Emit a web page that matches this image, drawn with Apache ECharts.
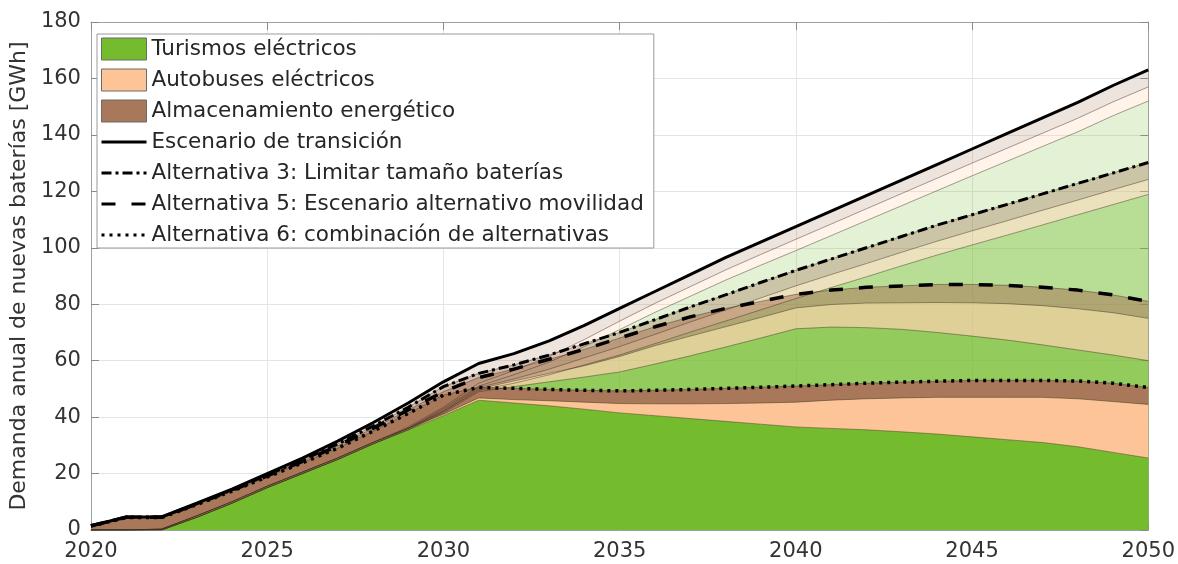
<!DOCTYPE html>
<html>
<head>
<meta charset="utf-8">
<script src="https://cdn.jsdelivr.net/npm/echarts@6/dist/echarts.min.js"></script>
<style>
  html, body { margin: 0; padding: 0; background: #ffffff; }
  #chart { width: 1178px; height: 564px; }
</style>
</head>
<body>
<div id="chart"></div>
<script>
// Years on the horizontal axis
const years = ['2020', '2021', '2022', '2023', '2024', '2025', '2026', '2027', '2028', '2029', '2030',
  '2031', '2032', '2033', '2034', '2035', '2036', '2037', '2038', '2039', '2040',
  '2041', '2042', '2043', '2044', '2045', '2046', '2047', '2048', '2049', '2050'];

// Escenario de transición (GWh per year)
const transicionTurismos = [0, 0, 0, 4.5, 9.5, 15, 20, 25, 30.5, 36, 43,
  51, 55, 59.5, 65, 71, 77.1, 82.8, 88.5, 93.8, 99,
  104.3, 109.6, 114.9, 120.2, 125.5, 130.7, 135.9, 141.1, 146.8, 152];
const transicionAutobuses = [0, 0, 0.3, 0.5, 0.5, 0.5, 0.5, 0.5, 0.5, 0.5, 0.5,
  1, 1.5, 2, 2.5, 3, 3.2, 3.4, 3.6, 3.8, 4,
  4.1, 4.2, 4.3, 4.4, 4.5, 4.6, 4.7, 4.8, 4.9, 5];
const transicionAlmacenamiento = [1.5, 4.6, 4.3, 4.5, 4.5, 4.5, 5, 6, 7, 8.5, 9,
  7, 6, 5.5, 5, 4.5, 4.2, 4.3, 4.4, 4.4, 4.5,
  4.6, 4.7, 4.8, 4.9, 5, 5.2, 5.4, 5.6, 5.8, 6];

// Alternativa 3: Limitar tamaño baterías
const alt3Turismos = [0, 0, 0, 4.5, 9.5, 15, 20, 25, 30.5, 35.5, 42,
  49.5, 52, 55, 58.5, 62, 66, 70.1, 74, 78, 82,
  85.9, 89.7, 93.6, 97.4, 101, 104.5, 108.1, 111.7, 115.3, 118.9];
const alt3Autobuses = [0, 0, 0.3, 0.5, 0.5, 0.5, 0.5, 0.5, 0.5, 0.5, 0.5,
  1, 1.5, 2, 2.5, 3, 3.3, 3.6, 3.9, 4.2, 4.5,
  4.6, 4.7, 4.8, 4.9, 5, 5.1, 5.2, 5.2, 5.3, 5.3];
const alt3Almacenamiento = [1.5, 4.6, 4.3, 4.3, 4.2, 4, 4.3, 5, 5.8, 7.5, 8.3,
  5, 5, 5, 5, 5, 5.2, 5.3, 5.4, 5.5, 5.5,
  5.5, 5.6, 5.6, 5.7, 5.7, 5.8, 5.8, 5.9, 5.9, 6];

// Alternativa 5: Escenario alternativo movilidad
const alt5Turismos = [0, 0, 0, 4.5, 9.5, 15, 20, 25, 30.5, 35.5, 41.5,
  49, 50.8, 52.5, 54.2, 56, 58.8, 61.7, 64.8, 68, 71.3,
  71.9, 71.7, 71.1, 70, 68.7, 67.3, 65.6, 63.8, 62, 60];
const alt5Autobuses = [0, 0, 0.3, 0.5, 0.5, 0.5, 0.5, 0.5, 0.5, 0.5, 0.5,
  1, 2, 3, 4, 5.5, 6.5, 7, 7.2, 7.3, 7.4,
  8, 8.7, 9.4, 10.6, 11.8, 12.9, 13.9, 14.6, 15, 15];
const alt5Almacenamiento = [1.5, 4.5, 4.2, 4.2, 4, 3.7, 3.8, 4.3, 5, 6.5, 7,
  4, 4.2, 5, 5.8, 6.5, 6.7, 6.8, 6.5, 5.7, 4.8,
  5.1, 5.6, 6, 6.4, 6.5, 6.5, 6.5, 6.6, 6.3, 6];

// Alternativa 6: combinación de alternativas
const alt6Turismos = [0, 0, 0, 4.5, 9.5, 15, 20, 25, 30.5, 35.5, 40.5,
  46, 45, 44, 42.8, 41.5, 40.5, 39.5, 38.5, 37.5, 36.5,
  36, 35.5, 34.8, 34, 33, 32, 31, 29.5, 27.5, 25.5];
const alt6Autobuses = [0, 0, 0.3, 0.5, 0.5, 0.5, 0.5, 0.5, 0.5, 0.5, 0.5,
  0.8, 1.2, 1.8, 2.5, 3.3, 4.2, 5.2, 6.3, 7.5, 8.8,
  10, 11, 12, 13, 14, 15, 16, 17, 18, 19];
const alt6Almacenamiento = [1.4, 4.4, 4.1, 4, 3.8, 3.3, 3.3, 3.5, 4, 5.3, 6.8,
  3.7, 4, 4, 4.2, 4.5, 4.8, 5.1, 5.4, 5.6, 5.7,
  5.5, 5.5, 5.6, 5.7, 6, 6, 6, 6.3, 6.5, 6];

const yTicks = { min: 0, max: 180, step: 20 };
const xLabelEvery = 5; // a labelled tick every five years

const categoryNames = ['Turismos eléctricos', 'Autobuses eléctricos', 'Almacenamiento energético'];
const categoryColors = ['#74bc2e', '#fdc597', '#a9785a'];

const FONT = 'DejaVu Sans';

// Scenarios from back to front; the last one is drawn opaque on top
const scenarios = [
  { name: 'Escenario de transición', stack: 'transicion', parts: [transicionTurismos, transicionAutobuses, transicionAlmacenamiento], alpha: 0.2, dash: 'solid', width: 3 },
  { name: 'Alternativa 3: Limitar tamaño baterías', stack: 'alt3', parts: [alt3Turismos, alt3Autobuses, alt3Almacenamiento], alpha: 0.38, dash: [10, 4, 3, 4], width: 3 },
  { name: 'Alternativa 5: Escenario alternativo movilidad', stack: 'alt5', parts: [alt5Turismos, alt5Autobuses, alt5Almacenamiento], alpha: 0.55, dash: [14, 16], width: 3.5 },
  { name: 'Alternativa 6: combinación de alternativas', stack: 'alt6', parts: [alt6Turismos, alt6Autobuses, alt6Almacenamiento], alpha: 1, dash: [3, 5], width: 3.5 }
];

const series = [];
// stacked areas per scenario
scenarios.forEach(sc => {
  sc.parts.forEach((arr, k) => {
    series.push({
      type: 'line',
      name: categoryNames[k],
      stack: sc.stack,
      data: arr,
      symbol: 'none',
      silent: true,
      z: 2,
      lineStyle: { color: 'rgba(60,45,30,0.45)', width: 1 },
      itemStyle: { color: categoryColors[k] },
      areaStyle: { color: categoryColors[k], opacity: sc.alpha },
      emphasis: { disabled: true }
    });
  });
});
// scenario totals drawn as black lines
scenarios.forEach(sc => {
  const total = years.map((y, i) => +(sc.parts[0][i] + sc.parts[1][i] + sc.parts[2][i]).toFixed(2));
  series.push({
    type: 'line',
    name: sc.name,
    data: total,
    symbol: 'none',
    silent: true,
    z: 5,
    itemStyle: { color: '#000' },
    lineStyle: { color: '#000', width: sc.width, type: sc.dash, cap: 'butt' },
    emphasis: { disabled: true }
  });
});

const legendData = categoryNames.map((n, k) => ({
  name: n,
  icon: 'rect',
  itemStyle: { color: categoryColors[k], borderColor: '#6b6b6b', borderWidth: 1, opacity: 1 }
})).concat(scenarios.map(sc => ({
  name: sc.name,
  itemStyle: { opacity: 0 },
  lineStyle: { color: '#000', width: 3, type: sc.dash, opacity: 1 }
})));

const xCommon = {
  type: 'category',
  data: years,
  boundaryGap: false,
  axisLine: { show: true, onZero: false, lineStyle: { color: '#a0a0a0', width: 1 } },
  axisTick: { show: true, inside: true, length: 8, interval: xLabelEvery - 1, lineStyle: { color: '#8a8a8a' } }
};
const yCommon = {
  type: 'value',
  min: yTicks.min, max: yTicks.max, interval: yTicks.step,
  axisLine: { show: true, onZero: false, lineStyle: { color: '#a0a0a0', width: 1 } },
  axisTick: { show: true, inside: true, length: 8, lineStyle: { color: '#8a8a8a' } }
};

const chart = echarts.init(document.getElementById('chart'), null, { renderer: 'canvas' });
chart.setOption({
  animation: false,
  backgroundColor: '#ffffff',
  textStyle: { fontFamily: FONT },
  grid: { left: 86, right: 28, top: 22, bottom: 34, containLabel: false },
  legend: {
    orient: 'vertical',
    left: 97,
    top: 34,
    padding: [2, 10, 0, 3],
    itemWidth: 45,
    itemHeight: 22,
    itemGap: 5,
    backgroundColor: '#ffffff',
    borderColor: '#9a9a9a',
    borderWidth: 1,
    selectedMode: false,
    textStyle: { fontFamily: FONT, fontSize: 21.5, lineHeight: 26, color: '#262626' },
    data: legendData
  },
  xAxis: [
    Object.assign({}, xCommon, {
      position: 'bottom',
      axisLabel: { interval: xLabelEvery - 1, fontSize: 21, color: '#333', margin: 11, fontFamily: FONT },
      splitLine: { show: true, interval: xLabelEvery - 1, lineStyle: { color: '#e4e4e4', width: 1 } }
    }),
    Object.assign({}, xCommon, {
      position: 'top',
      axisLabel: { show: false },
      splitLine: { show: false }
    })
  ],
  yAxis: [
    Object.assign({}, yCommon, {
      position: 'left',
      name: 'Demanda anual de nuevas baterías [GWh]',
      nameLocation: 'middle',
      nameGap: 55,
      nameTextStyle: { fontSize: 22, color: '#333', fontFamily: FONT },
      axisLabel: { fontSize: 21, color: '#333', margin: 10, fontFamily: FONT },
      splitLine: { show: true, lineStyle: { color: '#e4e4e4', width: 1 } }
    }),
    Object.assign({}, yCommon, {
      position: 'right',
      axisLabel: { show: false },
      splitLine: { show: false }
    })
  ],
  series: series
});
</script>
</body>
</html>
